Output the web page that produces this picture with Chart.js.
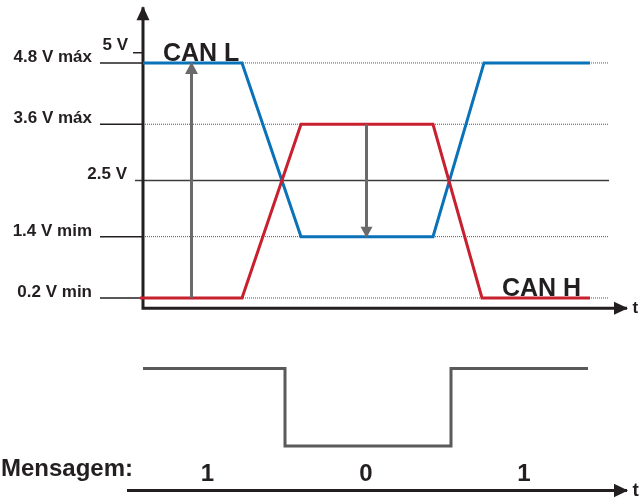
<!DOCTYPE html>
<html lang="pt">
<head>
<meta charset="UTF-8">
<title>CAN H / CAN L</title>
<script src="https://cdn.jsdelivr.net/npm/chart.js"></script>
<style>
  body { margin: 0; background: #fff; }
  #wrap { width: 641px; height: 499px; }
</style>
</head>
<body>
<div id="wrap"><canvas id="canChart"></canvas></div>

<script>
  // níveis de tensão do barramento (V)
  const levels = [4.8, 3.6, 2.5, 1.4, 0.2];
  const levelLabels = ['4.8 V máx', '3.6 V máx', '2.5 V', '1.4 V mim', '0.2 V min'];

  // sinais: tempo (unidades arbitrárias) e tensão
  const canLTime = [0, 9.9, 15.8, 29, 34.1, 44.7];
  const canLVolts = [4.8, 4.8, 1.4, 1.4, 4.8, 4.8];
  const canHTime = [-0.3, 9.9, 15.8, 29, 33.9, 44.7];
  const canHVolts = [0.2, 0.2, 3.6, 3.6, 0.2, 0.2];

  // mensagem (nível lógico)
  const msgTime = [0, 14.2, 14.2, 30.8, 30.8, 44.5];
  const msgLevel = [1, 1, 0, 0, 1, 1];
  const bits = ['1', '0', '1'];
  const bitTime = [6.45, 22.3, 38.1];

  // diferenças de tensão indicadas pelas setas cinzentas
  const upArrowTime = 4.85;
  const downArrowTime = 22.35;

  const pts = (xs, ys) => xs.map((x, i) => ({ x: x, y: ys[i] }));
  const FONT = '"Liberation Sans", Arial, sans-serif';
  const INK = '#231f20';

  // linhas de referência
  const refSets = levels.map(v => v === 2.5 ? {
    data: [{ x: -0.8, y: v }, { x: 46.6, y: v }],
    borderColor: '#3c3c3c', borderWidth: 1.5, order: 10
  } : {
    data: [{ x: 0, y: v }, { x: 46.6, y: v }],
    borderColor: '#555', borderWidth: 1, borderDash: [1, 1], order: 10
  });
  const tickSets = levels.filter(v => v !== 2.5).map(v => ({
    data: [{ x: -4.3, y: v }, { x: 0, y: v }],
    borderColor: INK, borderWidth: 1.5, order: 9
  }));
  tickSets.push({ data: [{ x: -1, y: 5 }, { x: 0, y: 5 }], borderColor: INK, borderWidth: 1.5, order: 9 });

  const datasets = [
    ...refSets,
    ...tickSets,
    { label: 'CAN L', data: pts(canLTime, canLVolts), borderColor: '#0a72b8', borderWidth: 3, order: 3 },
    { label: 'CAN H', data: pts(canHTime, canHVolts), borderColor: '#c8202f', borderWidth: 3, order: 2 },
    { data: [{ x: upArrowTime, y: levels[4] }, { x: upArrowTime, y: levels[0] }],
      borderColor: '#6a6a6a', borderWidth: 3, order: 1, arrow: { end: true, len: 12, half: 6.5 } },
    { data: [{ x: downArrowTime, y: levels[1] }, { x: downArrowTime, y: levels[3] }],
      borderColor: '#6a6a6a', borderWidth: 3, order: 1, arrow: { end: true, len: 11, half: 6 } },
    // eixos
    { data: [{ x: 0, y: 5.89 }, { x: 0, y: 0 }, { x: 48.4, y: 0 }],
      borderColor: INK, borderWidth: 3, order: 4, arrow: { start: true, end: true, len: 14, half: 6.5 } },
    // mensagem
    { label: 'Mensagem', data: pts(msgTime, msgLevel), yAxisID: 'y2', borderColor: '#5a5a5a', borderWidth: 3, order: 3 },
    { data: [{ x: -1.6, y: -0.574 }, { x: 48.4, y: -0.574 }], yAxisID: 'y2',
      borderColor: INK, borderWidth: 3, order: 4, arrow: { end: true, len: 14, half: 6.7 } }
  ];

  function head(ctx, tip, from, len, half, color) {
    const ang = Math.atan2(tip.y - from.y, tip.x - from.x);
    ctx.save();
    ctx.translate(tip.x, tip.y);
    ctx.rotate(ang);
    ctx.beginPath();
    ctx.moveTo(1, 0);
    ctx.lineTo(1 - len, -half);
    ctx.lineTo(1 - len, half);
    ctx.closePath();
    ctx.fillStyle = color;
    ctx.fill();
    ctx.restore();
  }

  const arrowPlugin = {
    id: 'arrowHeads',
    afterDatasetsDraw(chart) {
      const ctx = chart.ctx;
      chart.data.datasets.forEach((ds, i) => {
        if (!ds.arrow) return;
        const p = chart.getDatasetMeta(i).data;
        const n = p.length;
        if (ds.arrow.end) head(ctx, p[n - 1], p[n - 2], ds.arrow.len, ds.arrow.half, ds.borderColor);
        if (ds.arrow.start) head(ctx, p[0], p[1], ds.arrow.len, ds.arrow.half, ds.borderColor);
      });
    }
  };

  const textPlugin = {
    id: 'canTexts',
    afterDatasetsDraw(chart) {
      const { ctx } = chart;
      const { x, y, y2 } = chart.scales;
      ctx.save();
      ctx.fillStyle = INK;
      ctx.textBaseline = 'alphabetic';

      ctx.font = 'bold 17px ' + FONT;
      ctx.textAlign = 'right';
      levels.forEach((v, i) => {
        const px = x.getPixelForValue(v === 2.5 ? -1.6 : -5.1);
        ctx.fillText(levelLabels[i], px, y.getPixelForValue(v) - 1);
      });
      ctx.fillText('5 V', x.getPixelForValue(-1.5), y.getPixelForValue(5) - 3);

      ctx.textAlign = 'left';
      ctx.fillText('t', x.getPixelForValue(48.95), y.getPixelForValue(0) + 5);
      ctx.font = 'bold 19px ' + FONT;
      ctx.fillText('t', x.getPixelForValue(48.95), y2.getPixelForValue(-0.574) + 6);

      ctx.font = 'bold 25px ' + FONT;
      ctx.fillText('CAN L', x.getPixelForValue(2), y.getPixelForValue(4.8) - 2);
      ctx.fillText('CAN H', x.getPixelForValue(35.9), y.getPixelForValue(0.2) - 2);

      ctx.font = 'bold 24px ' + FONT;
      ctx.textAlign = 'right';
      ctx.fillText('Mensagem:', x.getPixelForValue(-1), y2.getPixelForValue(-0.39));
      ctx.textAlign = 'center';
      bits.forEach((b, i) => {
        ctx.fillText(b, x.getPixelForValue(bitTime[i]), y2.getPixelForValue(-0.45));
      });
      ctx.restore();
    }
  };

  new Chart(document.getElementById('canChart'), {
    type: 'line',
    data: { datasets: datasets },
    options: {
      responsive: true,
      maintainAspectRatio: false,
      animation: false,
      events: [],
      layout: { padding: 0 },
      elements: {
        point: { radius: 0 },
        line: { tension: 0, borderJoinStyle: 'miter', fill: false }
      },
      plugins: { legend: { display: false }, tooltip: { enabled: false } },
      scales: {
        x: { type: 'linear', display: false, min: -14.3, max: 49.8 },
        y: { type: 'linear', display: false, min: -3.735, max: 6.032 },
        y2: { type: 'linear', display: false, min: -0.684, max: 5.755 }
      }
    },
    plugins: [arrowPlugin, textPlugin]
  });
</script>
</body>
</html>
